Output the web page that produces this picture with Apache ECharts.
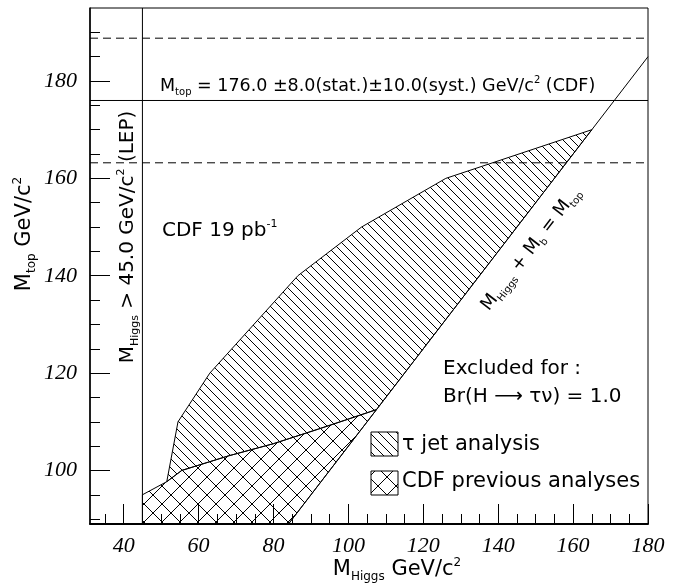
<!DOCTYPE html>
<html><head><meta charset="utf-8">
<script src="https://cdn.jsdelivr.net/npm/echarts@6/dist/echarts.min.js"></script>
<style>html,body{margin:0;padding:0;background:#fff;}#c{width:678px;height:583px;}</style>
</head><body><div id="c"></div>
<script>
// ---------- data ----------
const xMajorTicks = [40, 60, 80, 100, 120, 140, 160, 180];
const xMinorTicks = [35, 40, 45, 50, 55, 60, 65, 70, 75, 80, 85, 90, 95, 100, 105, 110, 115, 120, 125, 130, 135, 140, 145, 150, 155, 160, 165, 170, 175];
const yMajorTicks = [100, 120, 140, 160, 180];
const yMinorTicks = [90, 95, 100, 105, 110, 115, 120, 125, 130, 135, 140, 145, 150, 155, 160, 165, 170, 175, 180, 185, 190];

const lepLimit = [[45, 89], [45, 195]];
const mtopCentral = [[31, 176.0], [180, 176.0]];
const mtopUpper = [[31, 188.8], [180, 188.8]];
const mtopLower = [[31, 163.2], [180, 163.2]];
const kinematicLine = [[84, 89], [180, 185]];

const tauJetRegion = [
  [51.5, 97.7], [54.5, 110], [63, 120], [86.5, 140], [103.5, 150], [126, 160], [165, 170],
  [107.5, 112.5], [99, 110.3], [92, 108.5], [80, 105.5], [68, 103], [55.5, 100], [51.5, 97.7]
];
const cdfPrevRegion = [
  [45, 95], [51.5, 97.7], [55.5, 100], [68, 103], [80, 105.5], [92, 108.5], [99, 110.3],
  [107.5, 112.5], [84, 89], [45, 89]
];

// ---------- helpers ----------
const SANS = 'DejaVu Sans';
const SERIF = 'Liberation Serif';

function hatchCanvas(s, back, fwd) {
  const c = document.createElement('canvas');
  c.width = s; c.height = s;
  const g = c.getContext('2d');
  g.strokeStyle = '#000'; g.lineWidth = 1;
  g.beginPath();
  if (back) for (let k = -1; k <= 1; k++) { g.moveTo(-2, k * s - 2); g.lineTo(s + 2, k * s + s + 2); }
  if (fwd) for (let k = 0; k <= 2; k++) { g.moveTo(-2, k * s + 2); g.lineTo(s + 2, k * s - s - 2); }
  g.stroke();
  return c;
}
const tauPattern = { image: hatchCanvas(9, true, false), repeat: 'repeat' };
const cdfPattern = { image: hatchCanvas(18, true, true), repeat: 'repeat' };

function polygonSeries(name, points, pattern) {
  return {
    name: name, type: 'custom', coordinateSystem: 'cartesian2d',
    xAxisIndex: 0, yAxisIndex: 0,
    data: points, encode: { x: 0, y: 1 }, silent: true, animation: false,
    renderItem: function (params, api) {
      if (params.dataIndex !== 0) return null;
      const pts = points.map(p => api.coord(p));
      return { type: 'polygon', shape: { points: pts },
        style: { fill: pattern, stroke: '#000', lineWidth: 1 } };
    }
  };
}
function lineSeries(points, dashed) {
  return {
    type: 'line', data: points, xAxisIndex: 0, yAxisIndex: 0,
    symbol: 'none', silent: true, animation: false,
    lineStyle: { color: '#000', width: 1, type: dashed ? [8, 5] : 'solid' }
  };
}
function rich(size) {
  const sub = Math.round(size * 0.55);
  return {
    m: { fontSize: size, fontFamily: SANS, color: '#000', lineHeight: Math.round(size * 1.25) },
    s: { fontSize: sub, fontFamily: SANS, color: '#000', lineHeight: sub, verticalAlign: 'bottom' },
    p: { fontSize: sub, fontFamily: SANS, color: '#000', lineHeight: sub + 3, verticalAlign: 'top' }
  };
}
function txt(text, x, y, size, rot, align) {
  return { type: 'text', x: x, y: y, rotation: rot || 0, silent: true,
    style: { text: text, rich: rich(size), align: align || 'left', verticalAlign: 'middle' } };
}
const tickRich = { i: { color: '#000', fontFamily: SERIF, fontStyle: 'italic', fontSize: 22 } };
const tickFmt = function (v) { return '{i|' + v + '}'; };

// ---------- chart ----------
const chart = echarts.init(document.getElementById('c'), null, { renderer: 'canvas' });
const axisCommon = { type: 'value', splitLine: { show: false } };
chart.setOption({
  animation: false,
  backgroundColor: '#fff',
  grid: { left: 90, right: 30, top: 8, bottom: 59, show: true, borderColor: '#000', borderWidth: 1 },
  xAxis: [
    Object.assign({}, axisCommon, { min: 31, max: 180, position: 'bottom',
      axisLine: { show: true, lineStyle: { color: '#000', width: 2 } },
      axisTick: { show: true, inside: true, length: 20, customValues: xMajorTicks, lineStyle: { color: '#000', width: 1 } },
      axisLabel: { show: true, customValues: xMajorTicks, margin: 11, formatter: tickFmt, rich: tickRich,
        color: '#000', fontFamily: SERIF, fontStyle: 'italic', fontSize: 22 } }),
    Object.assign({}, axisCommon, { min: 31, max: 180, position: 'bottom',
      axisLine: { show: false },
      axisTick: { show: true, inside: true, length: 10, customValues: xMinorTicks, lineStyle: { color: '#000', width: 1 } },
      axisLabel: { show: false } })
  ],
  yAxis: [
    Object.assign({}, axisCommon, { min: 89, max: 195, position: 'left',
      axisLine: { show: true, lineStyle: { color: '#000', width: 1.5 } },
      axisTick: { show: true, inside: true, length: 20, customValues: yMajorTicks, lineStyle: { color: '#000', width: 1 } },
      axisLabel: { show: true, customValues: yMajorTicks, margin: 13, formatter: tickFmt, rich: tickRich,
        color: '#000', fontFamily: SERIF, fontStyle: 'italic', fontSize: 22 } }),
    Object.assign({}, axisCommon, { min: 89, max: 195, position: 'left',
      axisLine: { show: false },
      axisTick: { show: true, inside: true, length: 10, customValues: yMinorTicks, lineStyle: { color: '#000', width: 1 } },
      axisLabel: { show: false } })
  ],
  series: [
    polygonSeries('CDF previous analyses', cdfPrevRegion, cdfPattern),
    polygonSeries('τ jet analysis', tauJetRegion, tauPattern),
    lineSeries(lepLimit, false),
    lineSeries(mtopCentral, false),
    lineSeries(mtopUpper, true),
    lineSeries(mtopLower, true),
    lineSeries(kinematicLine, false)
  ],
  graphic: [
    txt('{m|M}{s|top}{m| = 176.0 ±8.0(stat.)±10.0(syst.) GeV/c}{p|2}{m| (CDF)}', 160, 86, 17.5),
    txt('{m|CDF 19 pb}{p|-1}', 162, 231, 20),
    txt('{m|M}{s|Higgs}{m| > 45.0 GeV/c}{p|2}{m| (LEP)}', 128, 237, 20, Math.PI / 2, 'center'),
    txt('{m|M}{s|Higgs}{m| + M}{s|b}{m| = M}{s|top}', 531, 249, 18, 52.4 * Math.PI / 180, 'center'),
    txt('{m|Excluded for :}', 443, 369, 20),
    txt('{m|Br(H ⟶ τν) = 1.0}', 443, 397, 20),
    { type: 'rect', shape: { x: 371, y: 432, width: 27, height: 24 }, silent: true,
      style: { fill: tauPattern, stroke: '#000', lineWidth: 1 } },
    { type: 'rect', shape: { x: 371, y: 471, width: 27, height: 24 }, silent: true,
      style: { fill: cdfPattern, stroke: '#000', lineWidth: 1 } },
    txt('{m|τ jet analysis}', 402, 445, 21),
    txt('{m|CDF previous analyses}', 402, 482, 21),
    txt('{m|M}{s|Higgs}{m| GeV/c}{p|2}', 397, 570, 21, 0, 'center'),
    txt('{m|M}{s|top}{m| GeV/c}{p|2}', 25, 234, 21, Math.PI / 2, 'center')
  ]
});
</script></body></html>
